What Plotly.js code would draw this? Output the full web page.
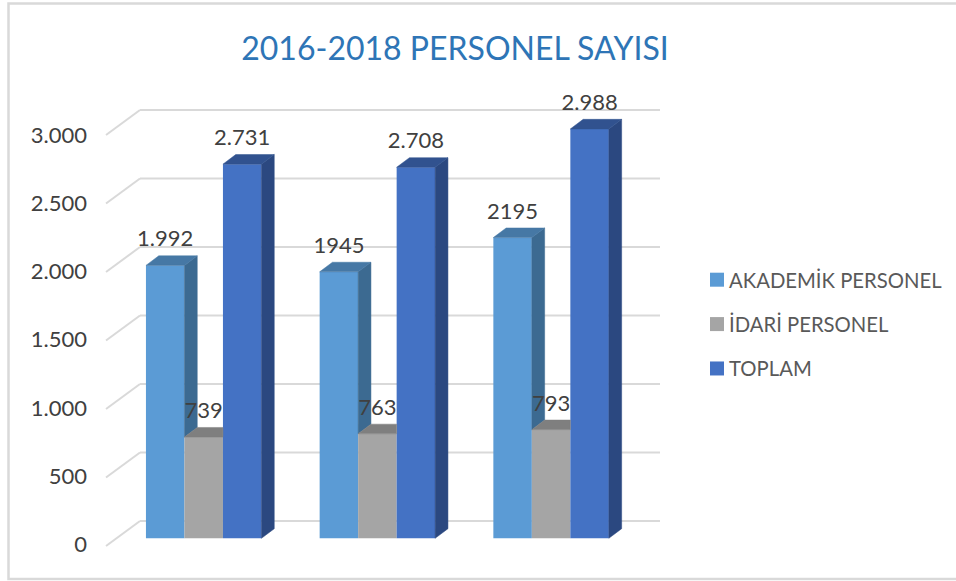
<!DOCTYPE html>
<html><head><meta charset="utf-8">
<script src="https://cdn.plot.ly/plotly-3.0.1.min.js"></script>
<style>html,body{margin:0;padding:0;background:#fff}#c{width:956px;height:581px}</style>
</head><body><div id="c"></div>
<script>
// Data
const groups = [0, 1, 2];
const seriesNames = ["AKADEMİK PERSONEL", "İDARİ PERSONEL", "TOPLAM"];
const akademik = [1992, 1945, 2195];
const idari = [739, 763, 793];
const toplam = [2731, 2708, 2988];
const akademikLabels = ["1.992", "1945", "2195"];
const idariLabels = ["739", "763", "793"];
const toplamLabels = ["2.731", "2.708", "2.988"];
const tickValues = [0, 500, 1000, 1500, 2000, 2500, 3000];
const tickLabels = ["0", "500", "1.000", "1.500", "2.000", "2.500", "3.000"];
const titleText = "2016-2018 PERSONEL SAYISI";

// Colours
const front = ["#5B9BD5", "#A5A5A5", "#4472C4"];
const side = ["#3C6A91", "#6F6F6F", "#2B4880"];
const top_ = ["#4678A5", "#7F7F7F", "#31528F"];
const GRID = "#D9D9D9", TEXT = "#404040";

// Pseudo-3D geometry, expressed from pixel scale of the picture
const W = 956, H = 581;
const pxX = 173.7, x0px = 203.7;          // px per group, px of group 0 centre
const pxY = 0.137, y0px = 538.3;          // px per unit, px of value 0
const toX = p => (p - x0px) / pxX;
const dU = p => p / pxY;
const barW = 38.5 / pxX;
const dx = 12.8 / pxX, dy = dU(9.6);

const layoutShapes = [];
// frame (open on the right, as in the picture)
layoutShapes.push({type:"rect", xref:"paper", yref:"paper", x0:8.5/W, x1:965/W, y0:1-579/H, y1:1-3.5/H,
  line:{color:GRID, width:2.5}, fillcolor:"rgba(0,0,0,0)", layer:"below"});
// walls: back gridlines and slanted side-wall lines
const backDy = dU(17.3), frontDy = dU(-7.7);
tickValues.forEach(v => {
  layoutShapes.push({type:"line", xref:"x", yref:"y", x0:toX(140), x1:toX(660), y0:v+backDy, y1:v+backDy,
    line:{color:GRID, width:2}, layer:"below"});
  layoutShapes.push({type:"line", xref:"x", yref:"y", x0:toX(106), x1:toX(140), y0:v+frontDy, y1:v+backDy,
    line:{color:GRID, width:2}, layer:"below"});
});

function poly(xs, ys, color) {
  return {type:"scatter", mode:"lines", x:xs.concat(xs[0]), y:ys.concat(ys[0]), fill:"toself",
    fillcolor:color, line:{color:color, width:0.5}, showlegend:false, hoverinfo:"skip", xaxis:"x", yaxis:"y"};
}
const traces = [];
// front faces: native bars
[akademik, idari, toplam].forEach((vals, i) => {
  traces.push({type:"bar", name:seriesNames[i], x:groups, y:vals, marker:{color:front[i], line:{width:0}},
    legendgroup:"g"+i, hoverinfo:"y"});
});
// depth faces: only the parts that are visible
groups.forEach((g, k) => {
  const xA = g - 1.5*barW, xI = g - 0.5*barW, xT = g + 0.5*barW, xE = g + 1.5*barW;
  const A = akademik[k], I = idari[k], T = toplam[k];
  traces.push(poly([xI, xI+dx, xI+dx, xI], [A, A+dy, I+dy, I], side[0]));
  traces.push(poly([xA, xA+dx, xI+dx, xI], [A, A+dy, A+dy, A], top_[0]));
  traces.push(poly([xI, xI+dx, xT, xT], [I, I+dy, I+dy, I], top_[1]));
  traces.push(poly([xE, xE+dx, xE+dx, xE], [T, T+dy, dy, 0], side[2]));
  traces.push(poly([xT, xT+dx, xE+dx, xE], [T, T+dy, T+dy, T], top_[2]));
});
// data labels
const lift = dU(24.5);
[[akademik, akademikLabels, -1], [idari, idariLabels, 0], [toplam, toplamLabels, 1]].forEach(([vals, labels, o]) => {
  traces.push({type:"scatter", mode:"text", x:groups.map(g => g + o*barW), y:vals.map(v => v + lift), text:labels,
    textposition:"middle center", textfont:{family:"Lato, sans-serif", size:22, color:TEXT},
    showlegend:false, hoverinfo:"skip", cliponaxis:false});
});
// carrier for the value axis
traces.push({type:"scatter", mode:"lines", x:tickValues.map(() => toX(60)), y:tickValues, xaxis:"x", yaxis:"y2",
  line:{color:"rgba(0,0,0,0)"}, showlegend:false, hoverinfo:"skip"});

const labelPx = 0.1365, label0 = 544.5;
const layout = {
  width:W, height:H, margin:{l:0, r:0, t:0, b:0}, paper_bgcolor:"#fff", plot_bgcolor:"#fff",
  barmode:"group", bargap:1 - 3*barW, bargroupgap:0,
  title:{text:titleText, x:455/W, xref:"paper", xanchor:"center", y:1-49/H, yref:"paper", yanchor:"middle",
    font:{family:"Lato, sans-serif", size:32, color:"#2E75B6"}},
  xaxis:{range:[toX(0), toX(W)], visible:false, fixedrange:true},
  yaxis:{range:[(y0px-H)/pxY, y0px/pxY], visible:false, fixedrange:true},
  yaxis2:{overlaying:"y", anchor:"free", position:87/W, side:"left",
    range:[(label0-H)/labelPx, label0/labelPx], tickmode:"array", tickvals:tickValues, ticktext:tickLabels,
    showgrid:false, zeroline:false, showline:false, ticks:"", fixedrange:true,
    tickfont:{family:"Lato, sans-serif", size:22, color:TEXT}},
  legend:{x:697/W, xanchor:"left", y:1-(260)/H, yanchor:"top", orientation:"v", tracegroupgap:15,
    bgcolor:"rgba(0,0,0,0)", font:{family:"Lato, sans-serif", size:20.3, color:"#595959"}, traceorder:"grouped"},
  showlegend:true, shapes:layoutShapes
};
Plotly.newPlot("c", traces, layout, {displayModeBar:false, staticPlot:true}).then(() => {
  document.querySelectorAll(".legendtext").forEach(t => t.setAttribute("x", 32));
  document.querySelectorAll(".legendpoints path").forEach(p => p.setAttribute("d", "M7,7H-7V-7H7Z"));
});
</script></body></html>
